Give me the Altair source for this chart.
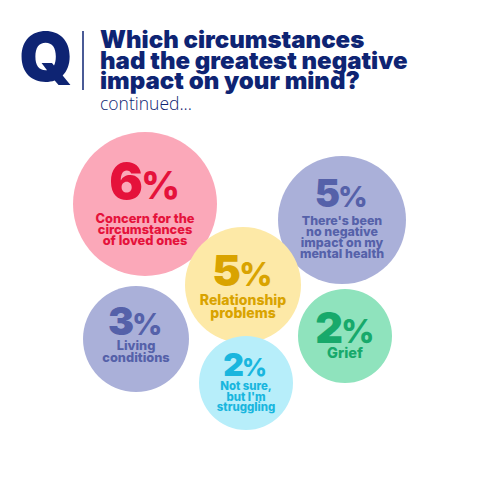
import pandas as pd
import altair as alt

# bubbles (values and layout, screen pixels)
pcts = [6, 5, 5, 3, 2, 2]
labels = [
    ["Concern for the", "circumstances", "of loved ones"],
    ["There's been", "no negative", "impact on my", "mental health"],
    ["Relationship", "problems"],
    ["Living", "conditions"],
    ["Not sure,", "but I'm", "struggling"],
    ["Grief"],
]
bubble_x = [145, 342, 243, 136, 246, 345]
bubble_y = [204, 220, 285, 339, 383, 336]
bubble_r = [72, 64, 58, 53, 47, 47]
fills = ["#fba8b9", "#aab0d9", "#fde9a7", "#aab0d9", "#b7eefa", "#8fe3bd"]
inks = ["#e5123b", "#5561a9", "#d9a300", "#5561a9", "#19b6de", "#17a96b"]
num_size = [50, 38, 43, 39, 32, 43]
num_dy = [-5, -13, 1, -4, -7, 7]
lab_size = [12.8, 12.4, 14, 12.8, 11.4, 14.5]
lab_dy = [19, 5, 20, 11, 7, 22]
lab_gap = [11, 11, 13, 12, 10.5, 12]

title_lines = ["Which circumstances", "had the greatest negative", "impact on your mind?"]
navy = "#0e2473"
FONT = "Inter"

bubbles = pd.DataFrame({
    "x": bubble_x, "y": bubble_y,
    "size": [(2 * r) ** 2 for r in bubble_r],
    "fill": fills,
})

nums, pcts_rows, labs = [], [], []
for i, p in enumerate(pcts):
    nums.append({"x": bubble_x[i] - 2, "y": bubble_y[i] + num_dy[i], "t": str(p),
                 "c": inks[i], "s": num_size[i]})
    pcts_rows.append({"x": bubble_x[i] - 4, "y": bubble_y[i] + num_dy[i], "t": "%",
                      "c": inks[i], "s": num_size[i] * 0.76})
    for j, line in enumerate(labels[i]):
        labs.append({"x": bubble_x[i], "y": bubble_y[i] + lab_dy[i] + j * lab_gap[i],
                     "t": line, "c": inks[i], "s": lab_size[i]})

X = alt.X("x:Q", scale=alt.Scale(domain=[8, 472]), axis=None)
Y = alt.Y("y:Q", scale=alt.Scale(domain=[8, 472], reverse=True), axis=None)

circles = alt.Chart(bubbles).mark_circle(opacity=1, strokeWidth=0).encode(
    x=X, y=Y,
    size=alt.Size("size:Q", scale=None, legend=None),
    color=alt.Color("fill:N", scale=None),
    order=alt.Order("y:Q"),
)


def text_layer(rows, align, weight, font=FONT):
    return alt.Chart(pd.DataFrame(rows)).mark_text(
        align=align, baseline="alphabetic", font=font, fontWeight=weight,
        lineHeight=1,
    ).encode(
        x=X, y=Y, text="t:N",
        color=alt.Color("c:N", scale=None),
        size=alt.Size("s:Q", scale=None, legend=None),
    )


number_text = text_layer(nums, "right", 900)
pct_text = text_layer(pcts_rows, "left", 800)
label_text = text_layer(labs, "center", 800)

# header: Q, divider, question, "continued..."
head = [{"x": 46, "y": 81, "t": "Q", "c": navy, "s": 68}]
for k, line in enumerate(title_lines):
    head.append({"x": 100, "y": 48 + k * 20.5, "t": line, "c": navy, "s": 24})
q_text = text_layer(head[:1], "center", 900)
title_text = text_layer(head[1:], "left", 900)
cont_text = text_layer([{"x": 100, "y": 110, "t": "continued...", "c": navy, "s": 17.5}],
                       "left", 300, font="Open Sans")

divider = alt.Chart(pd.DataFrame({"x": [83], "y": [31], "y2": [90]})).mark_rule(
    color=navy, strokeWidth=1.5
).encode(x=X, y=Y, y2="y2:Q")

chart = alt.layer(
    circles, number_text, pct_text, label_text, q_text, title_text, cont_text, divider
).properties(
    width=464, height=464, padding=0, autosize="none", background="white"
).configure_view(stroke=None)

chart.save("out.html", embed_options={"renderer": "svg", "actions": False})
